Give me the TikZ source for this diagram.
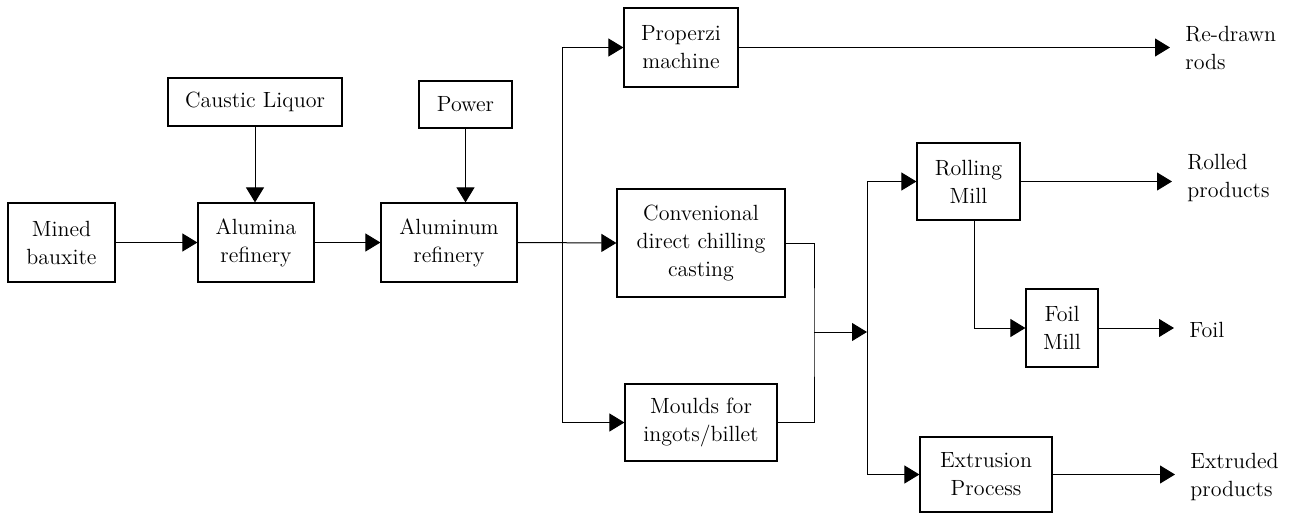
\documentclass[tikz,border=0pt]{standalone}
\usepackage{tikz}
\usetikzlibrary{arrows.meta,calc}
\tikzstyle{connector} = [line width=0.5pt,-{Triangle[length=7.5pt,width=9pt]}]
\tikzstyle{process} = [rectangle, draw, line width=0.6pt, align=center, inner sep=0pt]
\tikzstyle{product} = [anchor=west, align=left, inner xsep=7.5pt, inner ysep=0pt]

\begin{document}
\begin{tikzpicture}[x=0.5pt,y=-0.5pt,every node/.style={font=\fontsize{11}{14}\selectfont}]
        \useasboundingbox (0,0) rectangle (1314,514);
        \node (mined) [process, minimum width=53.5pt, minimum height=39.5pt] at (61.5,242.5) {Mined\\bauxite};
        \node (alumina) [process, minimum width=58pt, minimum height=39.5pt] at (256,242.5) {Alumina\\refinery};
        \node (aluminum) [process, minimum width=68pt, minimum height=39.5pt] at (449,242.5) {Aluminum\\refinery};
        \node (caustic) [process, minimum width=87pt, minimum height=24pt] at (255,102) {Caustic Liquor};
        \node (power) [process, minimum width=46.5pt, minimum height=23.5pt] at (465.5,104.5) {Power};
        \node (properzi) [process, minimum width=57pt, minimum height=39.5pt] at (681,47.5) {Properzi\\machine};
        \node (conventional) [process, minimum width=84pt, minimum height=54pt] at (701,243) {Convenional\\direct chilling\\casting};
        \node (moulds) [process, minimum width=76pt, minimum height=38.5pt] at (701,422.5) {Moulds for\\ingots/billet};
        \node (rolling) [process, minimum width=51.5pt, minimum height=38.5pt] at (968.5,181.5) {Rolling\\Mill};
        \node (foil-mill) [process, minimum width=36pt, minimum height=39pt] at (1062,328) {Foil\\Mill};
        \node (extrusion) [process, minimum width=66pt, minimum height=37.5pt] at (986,474.5) {Extrusion\\Process};
        \node (rods) [product] at (1170,48) {Re-drawn\\rods};
        \node (rolled) [product] at (1172,178) {Rolled\\products};
        \node (foil) [product] at (1174,330) {Foil};
        \node (extruded) [product] at (1175,477) {Extruded\\products};
        \coordinate (split) at (562,243);
        \coordinate (merge) at (814,332);
        \coordinate (fork) at (867,332);
        \draw [connector] (mined.east) -- (alumina.west);
        \draw [connector] (alumina.east) -- (aluminum.west);
        \draw [connector] (caustic.south) -- (caustic.south |- alumina.north);
        \draw [connector] (power.south) -- (power.south |- aluminum.north);
        \draw [connector] (aluminum.east) -- (conventional.west);
        \draw [connector] (split) |- (properzi.west);
        \draw [connector] (split) |- (moulds.west);
        \draw [line width=0.5pt] (conventional.east) -| (merge) |- (moulds.east);
        \draw [connector] (merge) -- (fork);
        \draw [connector] (fork) |- (rolling.west);
        \draw [connector] (fork) |- (extrusion.west);
        \draw [connector] (properzi.east) -- (properzi.east -| rods.west);
        \draw [connector] (rolling.east) -- (rolling.east -| rolled.west);
        \draw [connector] ([xshift=2.75pt]rolling.south) |- (foil-mill.west);
        \draw [connector] (foil-mill.east) -- (foil-mill.east -| foil.west);
        \draw [connector] (extrusion.east) -- (extrusion.east -| extruded.west);
\end{tikzpicture}
\end{document}
